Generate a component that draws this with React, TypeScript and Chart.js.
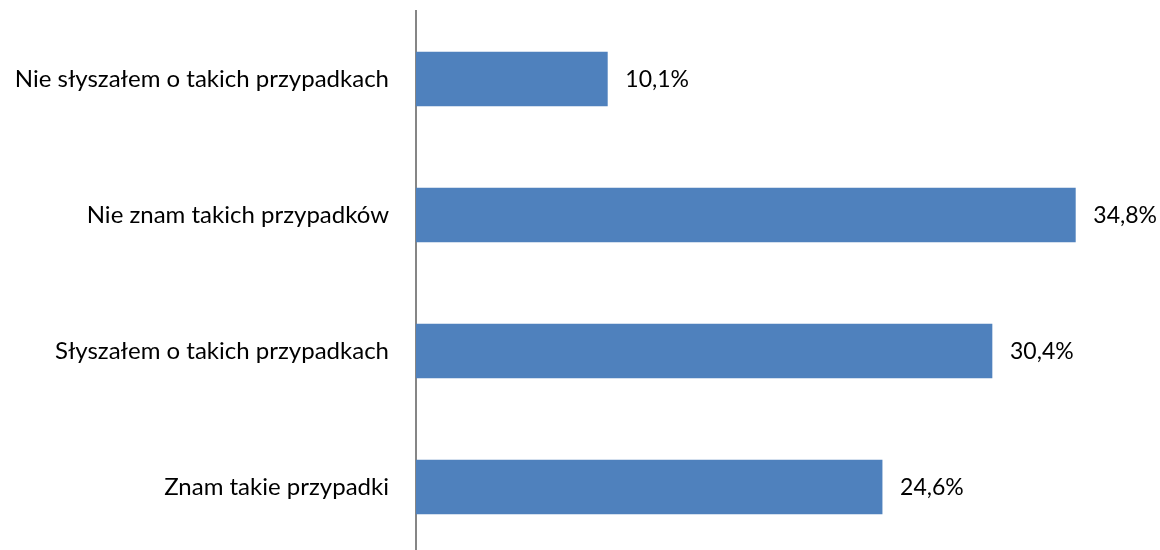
import React, { useEffect, useRef } from "react";
import { Chart, registerables } from "chart.js";

Chart.register(...registerables);

const categories = [
  "Nie słyszałem o takich przypadkach",
  "Nie znam takich przypadków",
  "Słyszałem o takich przypadkach",
  "Znam takie przypadki",
];
const values = [10.1, 34.8, 30.4, 24.6];
const valueLabels = ["10,1%", "34,8%", "30,4%", "24,6%"];

const FONT = "Lato, 'Open Sans', sans-serif";

const dataLabelPlugin = {
  id: "dataLabels",
  afterDatasetsDraw(chart: any) {
    const ctx = chart.ctx;
    const meta = chart.getDatasetMeta(0);
    ctx.save();
    ctx.font = `23px ${FONT}`;
    ctx.fillStyle = "#000000";
    ctx.textAlign = "left";
    ctx.textBaseline = "middle";
    meta.data.forEach((bar: any, i: number) => {
      ctx.fillText(valueLabels[i], bar.x + 18, bar.y + 1);
    });
    ctx.restore();
  },
};

export default function App() {
  const ref = useRef<HTMLCanvasElement>(null);
  useEffect(() => {
    document.body.style.margin = "0";
    const chart = new Chart(ref.current!, {
      type: "bar",
      data: {
        labels: categories,
        datasets: [
          {
            data: values,
            backgroundColor: "#4F81BD",
            borderWidth: 0,
            barThickness: 54,
          },
        ],
      },
      options: {
        indexAxis: "y",
        animation: false,
        responsive: false,
        layout: { padding: { top: 11, bottom: 5, right: 24, left: 0 } },
        plugins: { legend: { display: false }, tooltip: { enabled: false } },
        scales: {
          x: {
            min: 0,
            max: 38,
            display: false,
          },
          y: {
            grid: { display: false, drawTicks: false },
            border: { display: true, color: "#868686", width: 2 },
            ticks: {
              padding: 27,
              color: "#000000",
              font: { family: FONT, size: 24 },
            },
            afterFit(scale: any) {
              scale.width = 416;
              scale.paddingTop = 0;
              scale.paddingBottom = 0;
            },
          },
        },
      },
      plugins: [dataLabelPlugin],
    });
    return () => chart.destroy();
  }, []);
  return (
    <div style={{ width: 1160, height: 560 }}>
      <canvas ref={ref} width={1160} height={560} style={{ display: "block" }} />
    </div>
  );
}
